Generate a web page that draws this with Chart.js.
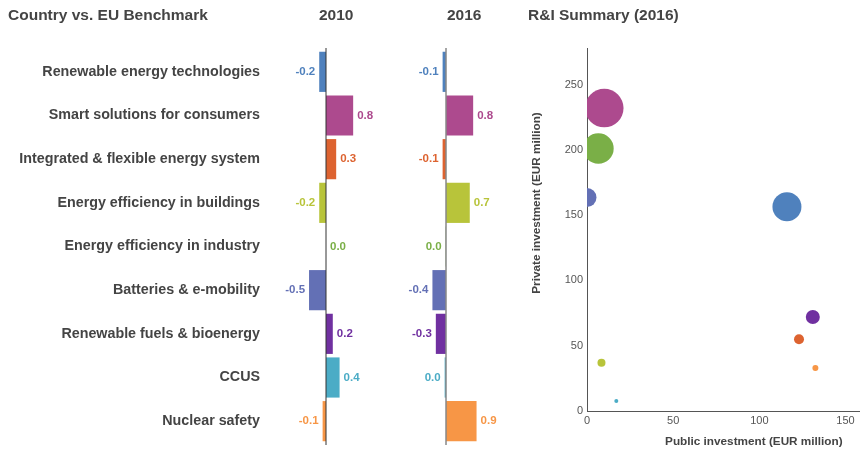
<!DOCTYPE html>
<html>
<head>
<meta charset="utf-8">
<script src="https://cdn.jsdelivr.net/npm/chart.js@4.4.1/dist/chart.umd.min.js"></script>
<style>
  body { margin: 0; background: #fff; font-family: "Liberation Sans", Arial, sans-serif; }
  #wrap { position: relative; width: 860px; height: 449px; overflow: hidden; }
  canvas { position: absolute; top: 0; }
  .hdr { position: absolute; top: 6px; font-weight: bold; font-size: 15.5px; color: #444; white-space: nowrap; }
</style>
</head>
<body>
<div id="wrap">
  <canvas id="c2010" width="400" height="449" style="left:0"></canvas>
  <canvas id="c2016" width="130" height="449" style="left:390px"></canvas>
  <canvas id="cBub" width="420" height="449" style="left:520px"></canvas>
  <div class="hdr" style="left:8px">Country vs. EU Benchmark</div>
  <div class="hdr" style="left:319px">2010</div>
  <div class="hdr" style="left:447px">2016</div>
  <div class="hdr" style="left:528px">R&amp;I Summary (2016)</div>
</div>
<script>
// categories and colours
const categories = [
  'Renewable energy technologies',
  'Smart solutions for consumers',
  'Integrated & flexible energy system',
  'Energy efficiency in buildings',
  'Energy efficiency in industry',
  'Batteries & e-mobility',
  'Renewable fuels & bioenergy',
  'CCUS',
  'Nuclear safety'
];
const colors = ['#4f81bd', '#ad4a8e', '#dd6330', '#b8c43a', '#7aaf47', '#6370b5', '#7030a0', '#4bacc6', '#f79646'];

// benchmark values (country vs EU)
const values2010 = [-0.2, 0.8, 0.3, -0.2, 0.0, -0.5, 0.2, 0.4, -0.1];
const values2016 = [-0.1, 0.8, -0.1, 0.7, -0.01, -0.4, -0.3, -0.04, 0.9];

// R&I summary 2016: public, private investment (EUR million), bubble size
const publicInv = [116, 10, 123, 8.4, 6.6, 0, 131, 17, 132.5];
const privateInv = [156.5, 232, 55, 37, 201, 163.5, 72, 7.7, 33];
const bubbleSize = [14.5, 19.3, 5, 4, 15.3, 9.5, 7, 2, 3];

const fontFamily = '"Liberation Sans", Arial, sans-serif';

function fmt(v) {
  let s = v.toFixed(1);
  if (s === '-0.0') s = '0.0';
  return s;
}

// zero line + value labels
const barExtras = {
  id: 'barExtras',
  afterDatasetsDraw(chart, args, opts) {
    const { ctx, chartArea, scales } = chart;
    const x0 = scales.x.getPixelForValue(0);
    ctx.save();
    ctx.strokeStyle = opts.axisColor;
    ctx.lineWidth = opts.axisWidth;
    ctx.beginPath();
    ctx.moveTo(x0, chartArea.top - 2);
    ctx.lineTo(x0, chartArea.bottom + 2);
    ctx.stroke();

    const meta = chart.getDatasetMeta(0);
    const data = chart.data.datasets[0].data;
    ctx.font = 'bold 11.5px ' + fontFamily;
    ctx.textBaseline = 'middle';
    meta.data.forEach((bar, i) => {
      const v = data[i];
      ctx.fillStyle = colors[i];
      if (v < 0) {
        ctx.textAlign = 'right';
        ctx.fillText(fmt(v), Math.min(bar.x, x0) - 4, bar.y);
      } else {
        ctx.textAlign = 'left';
        ctx.fillText(fmt(v), Math.max(bar.x, x0) + 4, bar.y);
      }
    });
    ctx.restore();
  }
};

function makeBar(id, values, showLabels, axisColor, axisWidth) {
  return new Chart(document.getElementById(id), {
    type: 'bar',
    data: {
      labels: categories,
      datasets: [{
        data: values,
        backgroundColor: colors,
        borderWidth: 0,
        categoryPercentage: 1,
        barPercentage: 0.92
      }]
    },
    options: {
      indexAxis: 'y',
      responsive: false,
      animation: false,
      layout: { padding: { top: 50, bottom: 6, left: 0, right: 0 } },
      plugins: {
        legend: { display: false },
        tooltip: { enabled: false },
        barExtras: { axisColor, axisWidth }
      },
      scales: {
        x: { display: false, min: -1.65, max: 2.18 },
        y: {
          grid: { display: false, drawTicks: false },
          border: { display: false },
          ticks: {
            display: showLabels,
            padding: 10,
            color: '#444',
            font: { family: fontFamily, size: 14.3, weight: 'bold' }
          },
          afterFit(scale) {
            scale.width = showLabels ? 270 : 0;
            scale.paddingTop = 0;
            scale.paddingBottom = 0;
          }
        }
      }
    },
    plugins: [barExtras]
  });
}

makeBar('c2010', values2010, true, '#333', 1);
makeBar('c2016', values2016, false, '#888', 1.5);

// y axis title, placed a little above the middle as in the reference
const yTitle = {
  id: 'yTitle',
  afterDraw(chart) {
    const { ctx } = chart;
    ctx.save();
    ctx.translate(17, 203);
    ctx.rotate(-Math.PI / 2);
    ctx.font = 'bold 11.75px ' + fontFamily;
    ctx.fillStyle = '#444';
    ctx.textAlign = 'center';
    ctx.textBaseline = 'middle';
    ctx.fillText('Private investment (EUR million)', 0, 0);
    ctx.restore();
  }
};

// bubble chart
const bubbleData = categories.map((c, i) => ({ x: publicInv[i], y: privateInv[i], r: bubbleSize[i] }));

new Chart(document.getElementById('cBub'), {
  type: 'bubble',
  data: {
    datasets: [{
      data: bubbleData,
      backgroundColor: colors,
      borderWidth: 0,
      hoverBorderWidth: 0
    }]
  },
  options: {
    responsive: false,
    animation: false,
    layout: { padding: { top: 48, left: 10, right: 0, bottom: 0 } },
    plugins: { legend: { display: false }, tooltip: { enabled: false } },
    scales: {
      x: {
        min: 0,
        max: 193.6,
        z: 1,
        grid: { display: false, drawTicks: false },
        border: { display: true, color: '#555', width: 1 },
        ticks: {
          stepSize: 50,
          includeBounds: false,
          padding: 3,
          color: '#555',
          font: { family: fontFamily, size: 11 }
        },
        title: {
          display: true,
          text: 'Public investment (EUR million)',
          color: '#444',
          font: { family: fontFamily, size: 11.75, weight: 'bold' },
          padding: { top: 0, bottom: 0 }
        },
        afterFit(scale) { scale.height = 38; }
      },
      y: {
        min: 0,
        max: 278,
        z: 1,
        grid: { display: false, drawTicks: false },
        border: { display: true, color: '#555', width: 1 },
        ticks: {
          stepSize: 50,
          includeBounds: false,
          padding: 4,
          color: '#555',
          font: { family: fontFamily, size: 11 }
        },
        afterFit(scale) { scale.width = 57; }
      }
    }
  },
  plugins: [yTitle]
});
</script>
</body>
</html>
